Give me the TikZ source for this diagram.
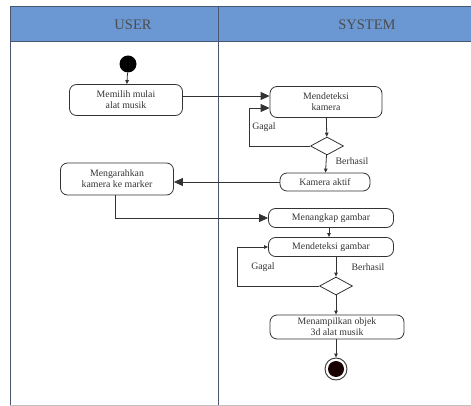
\documentclass[tikz,border=0pt]{standalone}
\usepackage{fontspec}
\setmainfont{Liberation Serif}
\usetikzlibrary{arrows.meta,shapes.geometric}
\definecolor{lanehead}{HTML}{6B98D2}
\definecolor{laneline}{HTML}{4A5670}
\definecolor{ink}{HTML}{333333}
\begin{document}
\begin{tikzpicture}[x=1pt,y=-1pt,
  act/.style={draw=ink, rounded corners=7pt, line width=0.8pt, align=center,
    font=\fontsize{9.8}{11}\selectfont, text=black!80, inner sep=0pt},
  decision/.style={draw=ink, diamond, line width=0.8pt, inner sep=0pt,
    minimum width=33pt, minimum height=18pt},
  flow/.style={draw=ink, line width=0.8pt},
  bigtip/.style={flow, -{Triangle[length=9pt,width=8pt]}},
  smalltip/.style={flow, -{Triangle[length=4pt,width=3.5pt]}},
  guard/.style={font=\fontsize{9.8}{11}\selectfont, text=black!80},
  lanetitle/.style={font=\fontsize{14.5}{16}\selectfont, text=black!70}]
\useasboundingbox (0,0) rectangle (471,406);

% swimlane frame
\fill[lanehead] (10,7) rectangle (471,42);
\draw[laneline, line width=1pt] (471,7) -- (10,7) -- (10,406);
\draw[laneline, line width=1pt] (10,42) -- (471,42);
\draw[laneline, line width=0.9pt] (218,7) -- (218,406);
\draw[black!25, line width=0.8pt] (10,405) -- (471,405);
\node[lanetitle] (user) at (133,25) {USER};
\node[lanetitle] (system) at (367,25) {SYSTEM};

% activities
\node[fill=black, circle, inner sep=0pt, minimum size=17pt] (start) at (128,64) {};
\node[act, minimum width=113pt, minimum height=31pt] (memilih) at (126,100) {Memilih mulai\\alat musik};
\node[act, minimum width=112pt, minimum height=31pt] (kam) at (326,102) {Mendeteksi\\kamera};
\node[decision] (d1) at (327,146) {};
\node[act, minimum width=90pt, minimum height=18pt] (aktif) at (325,182) {Kamera aktif};
\node[act, minimum width=113pt, minimum height=32pt] (arah) at (117,179) {Mengarahkan\\kamera ke marker};
\node[act, minimum width=125pt, minimum height=19pt] (tangkap) at (331,218) {Menangkap gambar};
\node[act, minimum width=125pt, minimum height=19pt] (gambar) at (331,247) {Mendeteksi gambar};
\node[decision] (d2) at (336,286) {};
\node[act, minimum width=134pt, minimum height=24pt] (tampil) at (337,327) {Menampilkan objek\\3d alat musik};
\node[draw=ink, circle, line width=0.9pt, inner sep=0pt, minimum size=22pt] (stop) at (336,369) {};
\fill[black!90!red] (stop.center) circle (8pt);

% guards
\node[guard] (g1) at (264,127) {Gagal};
\node[guard] (b1) at (352,161) {Berhasil};
\node[guard] (g2) at (263,267) {Gagal};
\node[guard] (b2) at (368,267) {Berhasil};

% entry points on the left side of "Mendeteksi kamera"
\coordinate (kamin) at ([yshift=6pt]kam.west);
\coordinate (kamloop) at ([yshift=-6pt]kam.west);

% flows
\draw[smalltip] (start) -- (memilih);
\draw[bigtip] (memilih.east |- kamin) -- (kamin);
\draw[smalltip] (kam) -- (d1);
\draw[bigtip] (d1.west) -- ++(-61,0) |- (kamloop);
\draw[smalltip] (d1) -- (aktif);
\draw[bigtip] (aktif.west) -- (aktif.west -| arah.east);
\draw[bigtip] ([xshift=-2pt]arah.south) |- (tangkap.west);
\draw[smalltip] ([xshift=-2pt]tangkap.south) -- ([xshift=-2pt]gambar.north);
\draw[smalltip] (d2.north |- gambar.south) -- (d2.north);
\draw[smalltip] (d2.west) -- ++(-82,0) |- (gambar.west);
\draw[smalltip] (d2.south) -- (d2.south |- tampil.north);
\draw[smalltip] (d2.south |- tampil.south) -- (stop);
\end{tikzpicture}
\end{document}
